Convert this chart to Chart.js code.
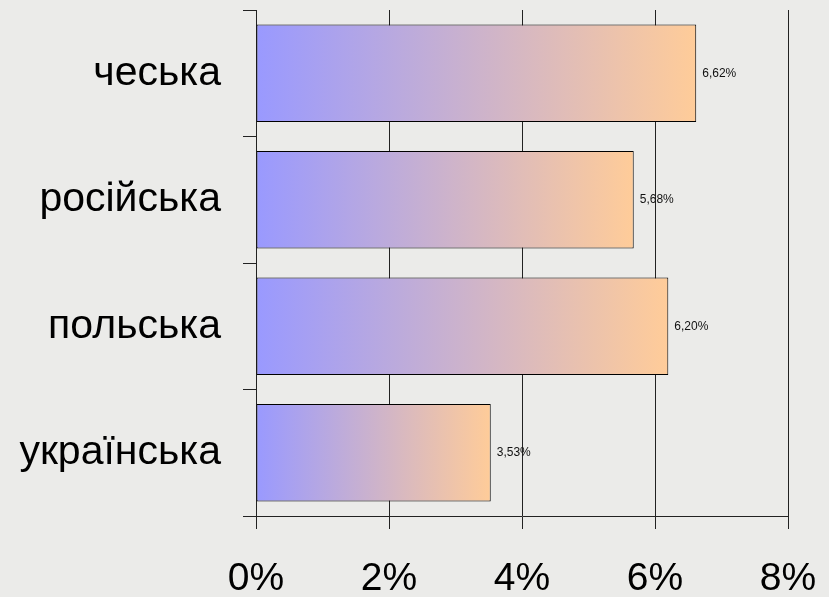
<!DOCTYPE html>
<html>
<head>
<meta charset="utf-8">
<script src="https://cdn.jsdelivr.net/npm/chart.js@4"></script>
<style>
  html, body { margin: 0; padding: 0; }
  body { width: 829px; height: 597px; background: #ebebe9; overflow: hidden; }
  #wrap { position: relative; width: 829px; height: 597px; }
</style>
</head>
<body>
<div id="wrap"><canvas id="c" width="829" height="597"></canvas></div>
<script>
const categories = ["чеська", "російська", "польська", "українська"];
const values = [6.62, 5.68, 6.20, 3.53];
const xTicks = [0, 2, 4, 6, 8];

const FONT = "'Liberation Sans', Arial, sans-serif";

function barGradient(ctx) {
  const chart = ctx.chart;
  const { chartArea } = chart;
  if (!chartArea || ctx.type !== 'data') return '#9999ff';
  const xs = chart.scales.x;
  const x0 = xs.getPixelForValue(0);
  const x1 = xs.getPixelForValue(ctx.raw);
  const g = chart.ctx.createLinearGradient(x0, 0, x1, 0);
  g.addColorStop(0, '#9999ff');
  g.addColorStop(1, '#ffcc99');
  return g;
}

const valueLabels = {
  id: 'valueLabels',
  afterDatasetsDraw(chart) {
    const c = chart.ctx;
    const meta = chart.getDatasetMeta(0);
    c.save();
    c.font = "12px " + FONT;
    c.fillStyle = '#111';
    c.textAlign = 'left';
    c.textBaseline = 'middle';
    meta.data.forEach((bar, i) => {
      const t = values[i].toFixed(2).replace('.', ',') + '%';
      c.fillText(t, bar.x + 6, bar.y);
    });
    c.restore();
  }
};

new Chart(document.getElementById('c'), {
  type: 'bar',
  data: {
    labels: categories,
    datasets: [{
      data: values,
      backgroundColor: barGradient,
      borderColor: '#000',
      borderWidth: 1,
      borderSkipped: false,
      categoryPercentage: 0.77,
      barPercentage: 1.0
    }]
  },
  options: {
    indexAxis: 'y',
    responsive: false,
    animation: false,
    devicePixelRatio: 1,
    layout: { padding: { top: 10, right: 41, left: 0, bottom: 0 } },
    plugins: { legend: { display: false }, tooltip: { enabled: false } },
    scales: {
      x: {
        min: 0, max: 8,
        afterBuildTicks(scale) { scale.ticks = xTicks.map(v => ({ value: v })); },
        afterFit(scale) { scale.height = 81; scale.paddingLeft = 0; scale.paddingRight = 0; },
        ticks: {
          callback: v => v + '%',
          font: { size: 39, family: FONT },
          color: '#000',
          padding: 27,
          maxRotation: 0,
          autoSkip: false
        },
        grid: { color: '#222', lineWidth: 1, drawTicks: true, tickLength: 13, tickColor: '#222' },
        border: { display: true, color: '#222', width: 1 }
      },
      y: {
        afterFit(scale) { scale.width = 256; scale.paddingTop = 0; scale.paddingBottom = 0; },
        ticks: {
          font: { size: 41, family: FONT },
          color: '#000',
          padding: 22,
          autoSkip: false
        },
        grid: { offset: true, drawOnChartArea: false, drawTicks: true, tickLength: 13, tickColor: '#222', lineWidth: 1 },
        border: { display: true, color: '#222', width: 1 }
      }
    }
  },
  plugins: [valueLabels]
});
</script>
</body>
</html>
